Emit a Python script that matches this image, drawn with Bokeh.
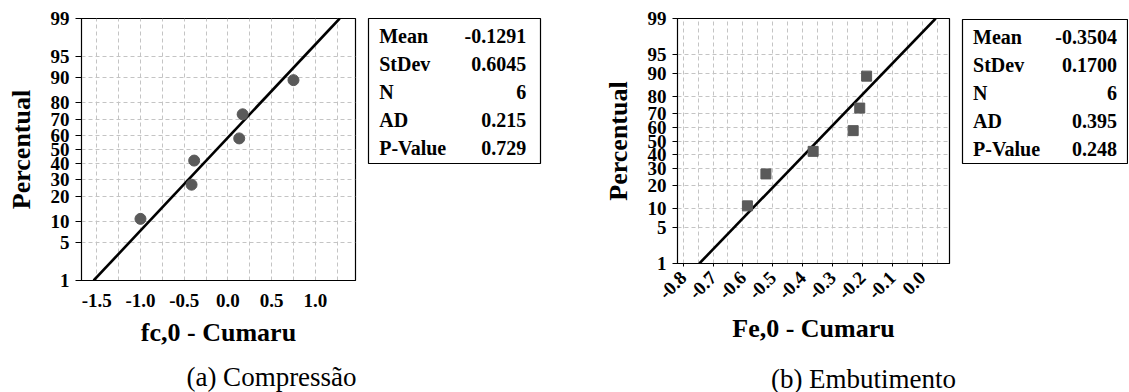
import math
from statistics import NormalDist
from bokeh.plotting import figure
from bokeh.layouts import row, column
from bokeh.models import Range1d, FixedTicker, ColumnDataSource, NumeralTickFormatter
from bokeh.embed import file_html
from bokeh.resources import INLINE
from bokeh.core.properties import value

# ---------------- data ----------------
pct_ticks = [1, 5, 10, 20, 30, 40, 50, 60, 70, 80, 90, 95, 99]
pct_points = [10.9, 26.6, 42.2, 57.8, 73.4, 89.1]

fc_values = [-1.00, -0.416, -0.386, 0.129, 0.168, 0.749]
fc_mean, fc_sd = -0.1291, 0.6045
fc_xticks = [-1.5, -1.0, -0.5, 0.0, 0.5, 1.0]
fc_stat_names = ["Mean", "StDev", "N", "AD", "P-Value"]
fc_stat_vals = ["-0.1291", "0.6045", "6", "0.215", "0.729"]

fe_values = [-0.585, -0.523, -0.365, -0.231, -0.209, -0.186]
fe_mean, fe_sd = -0.3504, 0.1700
fe_xticks = [-0.8, -0.7, -0.6, -0.5, -0.4, -0.3, -0.2, -0.1, 0.0]
fe_stat_names = ["Mean", "StDev", "N", "AD", "P-Value"]
fe_stat_vals = ["-0.3504", "0.1700", "6", "0.395", "0.248"]

captions = ["(a) Compressão", "(b) Embutimento"]
xlabels = ["fc,0 - Cumaru", "Fe,0 - Cumaru"]
ylabel = "Percentual"

# --------------- helpers ---------------
ND = NormalDist()
def z(p):
    return ND.inv_cdf(p / 100.0)

FONT = "Liberation Serif"
H1 = 355          # height of the chart row
H2 = 37           # height of the caption strip
zlo, zhi = z(pct_ticks[0]), z(pct_ticks[-1])


def prob_plot(values, mean, sd, xticks, xgrid, xr, xlabel, marker,
              width, bl, br, bt, bb, ytick_out, xtick_out, rot,
              xlab_standoff, xaxis_label_standoff):
    p = figure(width=width, height=H1, x_range=Range1d(*xr), y_range=Range1d(zlo, zhi),
               toolbar_location=None, output_backend="svg",
               min_border_left=bl, min_border_right=br, min_border_top=bt,
               min_border_bottom=bb)
    p.background_fill_color = "white"
    p.border_fill_color = "white"
    p.outline_line_color = "black"
    p.outline_line_width = 1.2

    zt = [z(v) for v in pct_ticks]
    p.yaxis.ticker = FixedTicker(ticks=zt)
    p.yaxis.major_label_overrides = {t: str(v) for t, v in zip(zt, pct_ticks)}
    p.xaxis.ticker = FixedTicker(ticks=xticks)
    p.xaxis.formatter = NumeralTickFormatter(format="0.0")
    p.xgrid.ticker = FixedTicker(ticks=xgrid)

    for g in (p.xgrid, p.ygrid):
        g.grid_line_color = "#c4c4c4"
        g.grid_line_dash = "4 3"
        g.grid_line_width = 1

    for ax in (p.xaxis, p.yaxis):
        ax.axis_line_color = "black"
        ax.major_tick_line_color = "black"
        ax.minor_tick_line_color = None
        ax.major_tick_in = 0
        ax.major_label_text_font = FONT
        ax.major_label_text_font_style = "bold"
        ax.major_label_text_font_size = "19px"
        ax.major_label_text_color = "black"
        ax.axis_label_text_font = FONT
        ax.axis_label_text_font_style = "bold"
        ax.axis_label_text_font_size = "26px"
        ax.axis_label_text_color = "black"
    p.yaxis.major_tick_out = ytick_out
    p.xaxis.major_tick_out = xtick_out
    p.yaxis.major_label_standoff = 6
    p.xaxis.major_label_standoff = xlab_standoff
    p.yaxis.axis_label = ylabel
    p.xaxis.axis_label = xlabel
    p.yaxis.axis_label_standoff = 12
    p.xaxis.axis_label_standoff = xaxis_label_standoff
    if rot:
        p.xaxis.major_label_orientation = math.pi / 4

    # fitted normal line (from mean and stdev)
    lx = [mean + sd * zlo, mean + sd * zhi]
    p.line(lx, [zlo, zhi], line_color="black", line_width=2.6)

    src = ColumnDataSource(dict(x=values, y=[z(v) for v in pct_points]))
    if marker == "circle":
        p.scatter("x", "y", source=src, marker="circle", size=11,
                  fill_color="#5a5a5a", line_color="#5a5a5a")
    else:
        p.scatter("x", "y", source=src, marker="square", size=10,
                  fill_color="#5a5a5a", line_color="#5a5a5a")
    return p


def stats_box(names, vals, width, bl, br, bt, fh, xr):
    n = len(names)
    # row centres 28 px apart, first centre 17.4 px below the top
    top = -17.4 / 28.0
    bot = (fh - 17.4) / 28.0
    b = figure(width=width, height=H1, x_range=Range1d(*xr), y_range=Range1d(bot, top),
               toolbar_location=None, output_backend="svg",
               x_axis_type=None, y_axis_type=None,
               min_border_left=bl, min_border_right=br, min_border_top=bt,
               min_border_bottom=H1 - bt - fh)
    b.grid.visible = False
    b.outline_line_color = "black"
    b.outline_line_width = 1.2
    b.background_fill_color = "white"
    b.border_fill_color = "white"
    src = ColumnDataSource(dict(y=list(range(n)), n=names, v=vals,
                                x0=[0] * n, x1=[1] * n))
    common = dict(source=src, text_baseline="middle", text_font=value(FONT),
                  text_font_style="bold", text_font_size="20px", text_color="black")
    b.text(x="x0", y="y", text="n", text_align="left", **common)
    b.text(x="x1", y="y", text="v", text_align="right", **common)
    return b


def caption_strip(text, width, cx, cy):
    c = figure(width=width, height=H2, x_range=Range1d(0, width), y_range=Range1d(H2, 0),
               toolbar_location=None, output_backend="svg",
               x_axis_type=None, y_axis_type=None,
               min_border_left=0, min_border_right=0, min_border_top=0, min_border_bottom=0)
    c.grid.visible = False
    c.outline_line_color = None
    c.background_fill_color = "white"
    c.border_fill_color = "white"
    c.text(x=[cx], y=[cy], text=[text], text_align="center", text_baseline="middle",
           text_font=value(FONT), text_font_style="normal", text_font_size="27px",
           text_color="black")
    return c


pA = prob_plot(fc_values, fc_mean, fc_sd, fc_xticks,
               [-1.5 + 0.25 * i for i in range(12)], (-1.674, 1.458),
               xlabels[0], "circle",
               width=362, bl=81, br=7, bt=18, bb=H1 - 280, ytick_out=6, xtick_out=0, rot=False,
               xlab_standoff=13, xaxis_label_standoff=8)
bA = stats_box(fc_stat_names, fc_stat_vals, width=238, bl=6, br=60, bt=18, fh=145,
               xr=(-10.7 / 147.0, 1 + 14.3 / 147.0))
pB = prob_plot(fe_values, fe_mean, fe_sd, fe_xticks,
               [-0.8 + 0.05 * i for i in range(18)], (-0.819, 0.0914),
               xlabels[1], "square",
               width=358, bl=72, br=9, bt=18, bb=H1 - 263, ytick_out=5, xtick_out=3, rot=True,
               xlab_standoff=8, xaxis_label_standoff=6)
bB = stats_box(fe_stat_names, fe_stat_vals, width=170, bl=4, br=1, bt=19, fh=144,
               xr=(-11.0 / 150.0, 1 + 11.0 / 150.0))

capA = caption_strip(captions[0], 600, 271, 376 - H1)
capB = caption_strip(captions[1], 528, 263, 378 - H1)

panelA = column(row(column(pA), column(bA)), column(capA))
panelB = column(row(column(pB), column(bB)), column(capB))
layout = row(panelA, panelB)
open("out.html", "w").write(file_html(layout, INLINE))
